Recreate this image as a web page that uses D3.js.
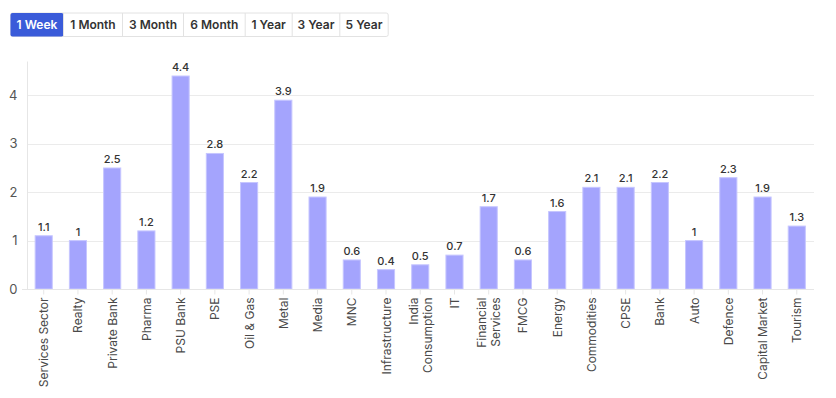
<!DOCTYPE html>
<html><head><meta charset="utf-8">
<script src="https://cdn.jsdelivr.net/npm/d3@7"></script>
<style>
html,body{margin:0;padding:0;background:#fff;}
svg{display:block;font-family:"Inter","Open Sans",sans-serif;}
</style></head>
<body><svg id="chart" width="836" height="398"></svg>
<script>
const categories = ["Services Sector","Realty","Private Bank","Pharma","PSU Bank","PSE","Oil & Gas","Metal","Media","MNC","Infrastructure","India Consumption","IT","Financial Services","FMCG","Energy","Commodities","CPSE","Bank","Auto","Defence","Capital Market","Tourism"];
const values = [1.1,1,2.5,1.2,4.4,2.8,2.2,3.9,1.9,0.6,0.4,0.5,0.7,1.7,0.6,1.6,2.1,2.1,2.2,1,2.3,1.9,1.3];
const yTicks = [0,1,2,3,4];
const periods = ["1 Week","1 Month","3 Month","6 Month","1 Year","3 Year","5 Year"];
const activePeriod = "1 Week";

const svg = d3.select("#chart");

// period buttons
const btnW = [53,59,61,61.7,47,47.6,48.4];
const bx0 = 10, by = 12.5, bh = 23.5;
let acc = bx0;
const btnX = btnW.map(w => { const x = acc; acc += w; return x; });
const bg = svg.append("g");
bg.append("rect").attr("x",bx0+0.5).attr("y",by+0.5).attr("width",acc-bx0).attr("height",bh)
  .attr("fill","#fff").attr("stroke","#e2e2e2").attr("rx",2);
periods.forEach((p,i)=>{
  const active = p===activePeriod;
  if(active){
    bg.append("rect").attr("x",btnX[i]+0.5).attr("y",by+0.5).attr("width",btnW[i]).attr("height",bh)
      .attr("fill","#3a5bd9").attr("rx",2);
  } else if(i>0) {
    bg.append("line").attr("x1",btnX[i]+0.5).attr("x2",btnX[i]+0.5).attr("y1",by+0.5).attr("y2",by+bh+0.5)
      .attr("stroke","#e2e2e2");
  }
  bg.append("text").attr("x",btnX[i]+btnW[i]/2+0.5).attr("y",by+bh/2+5)
    .attr("text-anchor","middle").attr("font-size",12).attr("font-weight",600)
    .attr("fill",active?"#fff":"#333").text(p);
});

// chart
const x = d3.scaleBand().domain(categories).range([26.6,813.9]).paddingInner(0.5).paddingOuter(0.25);
const y = d3.scaleLinear().domain([0,4.7]).range([289,61.5]);

// gridlines
svg.append("g").selectAll("line").data(yTicks.filter(d=>d>0)).join("line")
  .attr("x1",27).attr("x2",814).attr("y1",d=>Math.round(y(d))+0.5).attr("y2",d=>Math.round(y(d))+0.5)
  .attr("stroke","#ebebeb");

// y axis
const ya = svg.append("g").attr("transform","translate(27.5,0)")
  .call(d3.axisLeft(y).tickValues(yTicks).tickSize(0).tickPadding(10).tickFormat(d3.format("d")));
ya.select(".domain").attr("stroke","#e6e6e6").attr("d",`M0,${y.range()[1]}V${y(0)}`);
ya.selectAll(".tick text").attr("font-size",13).attr("fill","#555").attr("font-family","Inter, sans-serif");

// bars
svg.append("g").selectAll("rect").data(categories).join("rect")
  .attr("x",d=>x(d)).attr("width",x.bandwidth())
  .attr("y",(d,i)=>y(values[i])).attr("height",(d,i)=>y(0)-y(values[i]))
  .attr("fill","#a4a4fd").attr("stroke","#c6c6ff").attr("stroke-width",1);

// value labels
svg.append("g").selectAll("text").data(categories).join("text")
  .attr("x",d=>x(d)+x.bandwidth()/2).attr("y",(d,i)=>y(values[i])-5)
  .attr("text-anchor","middle").attr("font-size",11).attr("font-weight",500).attr("fill","#333")
  .text((d,i)=>values[i]);

// x axis
const xa = svg.append("g").attr("transform",`translate(0,${y(0)+0.5})`)
  .call(d3.axisBottom(x).tickSize(5).tickSizeOuter(0));
xa.select(".domain").attr("stroke","#e6e6e6").attr("d","M22,0H814");
xa.selectAll(".tick line").attr("stroke","#e6e6e6");
xa.selectAll(".tick text").remove();
const multi = {"India Consumption":["India","Consumption"],"Financial Services":["Financial","Services"]};
xa.selectAll(".tick").each(function(d){
  const lines = multi[d] || [d];
  const t = d3.select(this).append("text")
    .attr("transform","rotate(-90)").attr("text-anchor","end")
    .attr("font-size",12).attr("fill","#4a4a4a").attr("font-family","Inter, sans-serif");
  const n = lines.length;
  lines.forEach((l,i)=>{
    t.append("tspan").attr("x",-8).attr("y",(i-(n-1)/2)*14 + 4.5).text(l);
  });
});
</script></body></html>
